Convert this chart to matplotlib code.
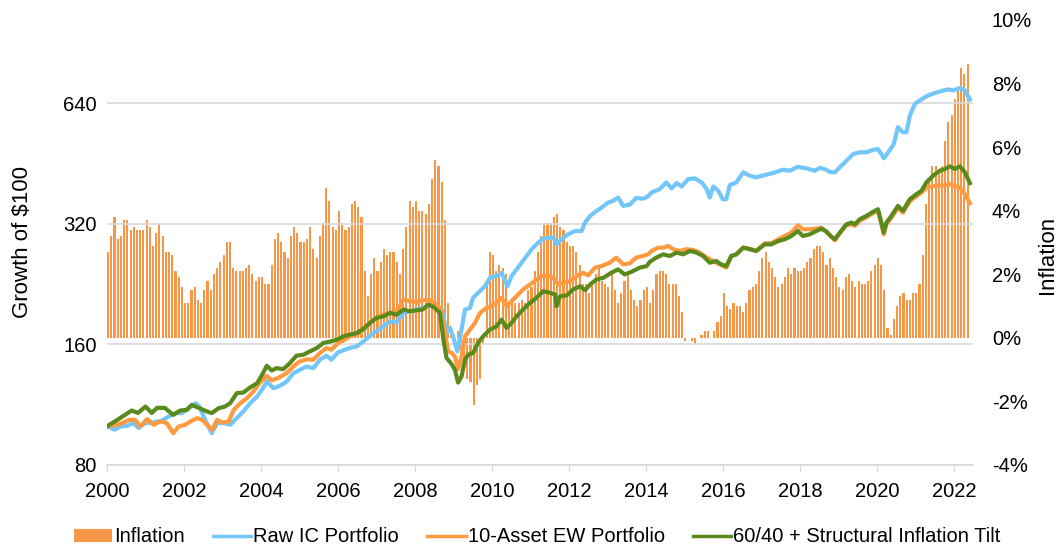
import numpy as np
import matplotlib
matplotlib.use("Agg")
import matplotlib.pyplot as plt
from matplotlib.ticker import FixedLocator, NullLocator, FuncFormatter
from matplotlib.patches import Patch
from matplotlib.lines import Line2D

plt.rcParams['font.family'] = ['Liberation Sans', 'DejaVu Sans']

# ============================================================
# DATA
# ============================================================

# Inflation, % YoY, monthly Jan 2000 .. May 2022
inflation = [
    2.7, 3.2, 3.8, 3.1, 3.2, 3.7, 3.7, 3.4, 3.5, 3.4, 3.4, 3.4,   # 2000
    3.7, 3.5, 2.9, 3.3, 3.6, 3.2, 2.7, 2.7, 2.6, 2.1, 1.9, 1.6,   # 2001
    1.1, 1.1, 1.5, 1.6, 1.2, 1.1, 1.5, 1.8, 1.5, 2.0, 2.2, 2.4,   # 2002
    2.6, 3.0, 3.0, 2.2, 2.1, 2.1, 2.1, 2.2, 2.3, 2.0, 1.8, 1.9,   # 2003
    1.9, 1.7, 1.7, 2.3, 3.1, 3.3, 3.0, 2.7, 2.5, 3.2, 3.5, 3.3,   # 2004
    3.0, 3.0, 3.1, 3.5, 2.8, 2.5, 3.2, 3.6, 4.7, 4.3, 3.5, 3.4,   # 2005
    4.0, 3.6, 3.4, 3.5, 4.2, 4.3, 4.1, 3.8, 2.1, 1.3, 2.0, 2.5,   # 2006
    2.1, 2.4, 2.8, 2.6, 2.7, 2.7, 2.4, 2.0, 2.8, 3.5, 4.3, 4.1,   # 2007
    4.3, 4.0, 4.0, 3.9, 4.2, 5.0, 5.6, 5.4, 4.9, 3.7, 1.1, 0.1,   # 2008
    0.0, 0.2, -0.4, -0.7, -1.3, -1.4, -2.1, -1.5, -1.3, -0.2, 1.8, 2.7,  # 2009
    2.6, 2.1, 2.3, 2.2, 2.0, 1.1, 1.2, 1.1, 1.1, 1.2, 1.1, 1.5,   # 2010
    1.6, 2.1, 2.7, 3.2, 3.6, 3.6, 3.6, 3.8, 3.9, 3.5, 3.4, 3.0,   # 2011
    2.9, 2.9, 2.7, 2.3, 1.7, 1.7, 1.4, 1.7, 2.0, 2.2, 1.8, 1.7,   # 2012
    1.6, 2.0, 1.5, 1.1, 1.4, 1.8, 2.0, 1.5, 1.2, 1.0, 1.2, 1.5,   # 2013
    1.6, 1.1, 1.5, 2.0, 2.1, 2.1, 2.0, 1.7, 1.7, 1.7, 1.3, 0.8,   # 2014
    -0.1, 0.0, -0.1, -0.2, 0.0, 0.1, 0.2, 0.2, 0.0, 0.2, 0.5, 0.7,  # 2015
    1.4, 1.0, 0.9, 1.1, 1.0, 1.0, 0.8, 1.1, 1.5, 1.6, 1.7, 2.1,   # 2016
    2.5, 2.7, 2.4, 2.2, 1.9, 1.6, 1.7, 1.9, 2.2, 2.0, 2.2, 2.1,   # 2017
    2.1, 2.2, 2.4, 2.5, 2.8, 2.9, 2.9, 2.7, 2.3, 2.5, 2.2, 1.9,   # 2018
    1.6, 1.5, 1.9, 2.0, 1.8, 1.6, 1.8, 1.7, 1.7, 1.8, 2.1, 2.3,   # 2019
    2.5, 2.3, 1.5, 0.3, 0.1, 0.6, 1.0, 1.3, 1.4, 1.2, 1.2, 1.4,   # 2020
    1.4, 1.7, 2.6, 4.2, 5.0, 5.4, 5.4, 5.3, 5.4, 6.2, 6.8, 7.0,   # 2021
    7.5, 7.9, 8.5, 8.3, 8.6,                                      # 2022
]

# Raw IC Portfolio, growth of $100
ic_years = [
    2000.0, 2000.2, 2000.35, 2000.52, 2000.69, 2000.82, 2000.99, 2001.21, 2001.43, 2001.6,
    2001.77, 2001.95, 2002.12, 2002.3, 2002.4, 2002.55, 2002.72, 2002.86, 2003.03, 2003.2,
    2003.37, 2003.54, 2003.72, 2003.9, 2004.06, 2004.15, 2004.32, 2004.49, 2004.67, 2004.84,
    2005.01, 2005.18, 2005.36, 2005.53, 2005.7, 2005.83, 2006.0, 2006.18, 2006.3, 2006.49,
    2006.66, 2006.83, 2007.0, 2007.18, 2007.35, 2007.52, 2007.7, 2007.87, 2008.04, 2008.2,
    2008.39, 2008.56, 2008.69, 2008.74, 2008.82, 2008.91, 2008.99, 2009.1, 2009.21, 2009.3,
    2009.43, 2009.51, 2009.64, 2009.82, 2009.95, 2010.12, 2010.25, 2010.4, 2010.51, 2010.64,
    2010.77, 2010.9, 2011.03, 2011.16, 2011.3, 2011.47, 2011.6, 2011.68, 2011.81, 2011.98,
    2012.16, 2012.33, 2012.42, 2012.55, 2012.72, 2012.85, 2013.02, 2013.15, 2013.28, 2013.41,
    2013.58, 2013.75, 2013.93, 2014.06, 2014.15, 2014.36, 2014.53, 2014.67, 2014.8, 2014.93,
    2015.1, 2015.27, 2015.45, 2015.58, 2015.66, 2015.75, 2015.88, 2016.0, 2016.09, 2016.18,
    2016.35, 2016.53, 2016.7, 2016.87, 2017.09, 2017.3, 2017.56, 2017.74, 2017.95, 2018.17,
    2018.39, 2018.52, 2018.69, 2018.78, 2018.91, 2019.04, 2019.21, 2019.39, 2019.56, 2019.73,
    2019.9, 2020.03, 2020.12, 2020.18, 2020.3, 2020.44, 2020.55, 2020.68, 2020.77, 2020.86,
    2020.99, 2021.16, 2021.33, 2021.51, 2021.68, 2021.86, 2021.99, 2022.16, 2022.29, 2022.42,
]
ic_values = [
    100.0, 98.0, 99.8, 100.2, 101.8, 98.9, 101.8, 102.1, 103.3, 105.7,
    107.8, 107.8, 110.9, 114.1, 111.9, 103.7, 96.0, 101.8, 101.8, 100.8,
    104.7, 108.8, 114.1, 118.6, 124.8, 129.3, 124.4, 126.1, 129.3, 135.6,
    138.2, 140.9, 139.6, 146.5, 150.0, 146.5, 152.8, 155.2, 156.7, 158.2,
    162.7, 168.1, 172.6, 177.5, 182.7, 181.6, 191.8, 193.6, 195.5, 197.4,
    200.7, 199.2, 195.5, 188.0, 171.0, 176.0, 167.6, 153.7, 174.2, 195.5,
    197.4, 209.2, 215.3, 223.6, 234.8, 236.9, 241.6, 223.6, 236.9, 246.3,
    256.0, 266.0, 276.4, 284.5, 292.9, 295.7, 295.7, 284.5, 292.9, 301.4,
    307.2, 307.2, 322.4, 335.0, 344.8, 351.5, 361.9, 365.3, 372.4, 354.9,
    357.4, 371.4, 369.9, 375.3, 383.4, 390.9, 406.2, 392.5, 404.6, 396.9,
    414.1, 415.8, 406.2, 390.9, 372.4, 396.9, 387.2, 368.9, 368.9, 399.9,
    406.2, 430.4, 422.1, 418.2, 423.7, 428.7, 437.0, 434.5, 444.5, 440.4,
    434.5, 442.0, 437.0, 431.2, 430.4, 443.3, 460.1, 478.4, 483.1, 483.1,
    489.5, 492.4, 478.4, 466.7, 483.1, 506.8, 558.2, 542.0, 542.0, 596.8,
    638.6, 654.6, 669.9, 679.3, 687.2, 693.6, 689.6, 699.2, 689.6, 654.6,
]

# 10-Asset EW Portfolio, growth of $100
ew_years = [
    2000.0, 2000.25, 2000.4, 2000.57, 2000.73, 2000.86, 2001.04, 2001.21, 2001.38, 2001.55,
    2001.72, 2001.86, 2002.03, 2002.16, 2002.34, 2002.47, 2002.6, 2002.73, 2002.86, 2002.99,
    2003.16, 2003.29, 2003.46, 2003.63, 2003.8, 2003.98, 2004.15, 2004.28, 2004.45, 2004.67,
    2004.84, 2005.01, 2005.18, 2005.36, 2005.53, 2005.7, 2005.83, 2006.0, 2006.18, 2006.3,
    2006.49, 2006.66, 2006.83, 2007.0, 2007.18, 2007.35, 2007.52, 2007.7, 2007.87, 2008.04,
    2008.2, 2008.35, 2008.48, 2008.65, 2008.78, 2008.86, 2008.95, 2009.04, 2009.12, 2009.21,
    2009.3, 2009.43, 2009.56, 2009.69, 2009.86, 2009.99, 2010.12, 2010.25, 2010.38, 2010.51,
    2010.64, 2010.81, 2010.99, 2011.16, 2011.33, 2011.51, 2011.64, 2011.72, 2011.85, 2012.03,
    2012.2, 2012.37, 2012.5, 2012.68, 2012.85, 2013.06, 2013.23, 2013.41, 2013.58, 2013.75,
    2013.93, 2014.06, 2014.15, 2014.32, 2014.45, 2014.58, 2014.71, 2014.88, 2015.05, 2015.23,
    2015.4, 2015.58, 2015.75, 2015.92, 2016.09, 2016.22, 2016.35, 2016.53, 2016.7, 2016.87,
    2017.09, 2017.26, 2017.44, 2017.61, 2017.78, 2017.95, 2018.08, 2018.26, 2018.43, 2018.56,
    2018.69, 2018.78, 2018.91, 2019.04, 2019.21, 2019.34, 2019.43, 2019.56, 2019.73, 2019.9,
    2020.03, 2020.12, 2020.18, 2020.25, 2020.38, 2020.55, 2020.68, 2020.86, 2021.03, 2021.16,
    2021.29, 2021.46, 2021.64, 2021.77, 2021.9, 2022.03, 2022.16, 2022.29, 2022.42,
]
ew_values = [
    100.0, 100.8, 101.8, 103.7, 103.7, 99.8, 104.1, 100.8, 102.7, 101.8,
    96.0, 99.8, 100.8, 102.7, 104.7, 103.7, 100.8, 97.9, 103.7, 102.1,
    102.7, 109.8, 114.1, 117.4, 121.9, 128.7, 133.5, 130.1, 132.0, 135.6,
    140.9, 145.1, 146.8, 146.5, 152.3, 156.7, 155.2, 161.3, 164.4, 167.6,
    169.2, 174.2, 181.1, 186.3, 189.9, 191.8, 193.6, 207.1, 205.1, 203.9,
    206.3, 207.1, 204.1, 197.4, 171.4, 153.7, 152.5, 149.1, 138.8, 149.1,
    167.6, 174.2, 181.1, 191.8, 197.4, 199.2, 203.2, 209.2, 199.2, 205.1,
    211.1, 219.4, 225.8, 232.5, 237.9, 236.9, 232.5, 225.8, 228.0, 230.1,
    236.9, 241.6, 237.9, 248.8, 251.1, 256.0, 263.6, 253.5, 255.0, 263.6,
    266.3, 268.6, 273.8, 279.1, 279.1, 281.8, 276.6, 273.8, 276.6, 275.5,
    271.3, 263.6, 258.4, 253.5, 248.8, 266.0, 268.6, 279.1, 277.5, 273.8,
    286.2, 286.2, 292.9, 298.5, 304.4, 317.5, 310.3, 310.3, 311.5, 313.3,
    305.5, 299.7, 291.2, 303.2, 317.5, 319.3, 316.6, 326.0, 332.6, 340.3,
    345.4, 319.3, 301.4, 319.3, 331.6, 351.3, 341.3, 364.7, 375.3, 383.4,
    393.9, 397.6, 399.2, 399.2, 402.3, 397.6, 393.9, 379.7, 360.5,
]

# 60/40 + Structural Inflation Tilt, growth of $100
tilt_years = [
    2000.0, 2000.2, 2000.4, 2000.64, 2000.8, 2001.0, 2001.16, 2001.3, 2001.5, 2001.72,
    2001.9, 2002.07, 2002.2, 2002.4, 2002.6, 2002.72, 2002.9, 2003.06, 2003.2, 2003.37,
    2003.54, 2003.7, 2003.9, 2004.06, 2004.15, 2004.28, 2004.4, 2004.58, 2004.75, 2004.92,
    2005.1, 2005.27, 2005.45, 2005.62, 2005.8, 2005.97, 2006.14, 2006.3, 2006.49, 2006.66,
    2006.83, 2007.0, 2007.18, 2007.35, 2007.52, 2007.7, 2007.87, 2008.04, 2008.2, 2008.35,
    2008.48, 2008.65, 2008.74, 2008.82, 2008.95, 2009.04, 2009.12, 2009.21, 2009.3, 2009.38,
    2009.51, 2009.64, 2009.77, 2009.95, 2010.12, 2010.25, 2010.38, 2010.51, 2010.64, 2010.81,
    2010.99, 2011.16, 2011.33, 2011.51, 2011.64, 2011.68, 2011.77, 2011.94, 2012.11, 2012.29,
    2012.42, 2012.55, 2012.72, 2012.9, 2013.1, 2013.28, 2013.45, 2013.62, 2013.84, 2014.02,
    2014.1, 2014.27, 2014.45, 2014.62, 2014.8, 2014.97, 2015.14, 2015.32, 2015.49, 2015.66,
    2015.83, 2015.96, 2016.09, 2016.22, 2016.35, 2016.53, 2016.7, 2016.87, 2017.09, 2017.26,
    2017.44, 2017.61, 2017.78, 2017.95, 2018.08, 2018.26, 2018.43, 2018.56, 2018.69, 2018.78,
    2018.91, 2019.04, 2019.21, 2019.34, 2019.43, 2019.56, 2019.73, 2019.9, 2020.03, 2020.12,
    2020.18, 2020.25, 2020.38, 2020.55, 2020.68, 2020.86, 2021.03, 2021.16, 2021.29, 2021.46,
    2021.64, 2021.77, 2021.9, 2022.03, 2022.16, 2022.29, 2022.42,
]
tilt_values = [
    100.0, 102.7, 105.7, 109.4, 107.9, 111.9, 107.9, 111.1, 111.1, 106.7,
    109.4, 109.8, 113.0, 110.9, 108.8, 107.8, 110.9, 111.9, 114.1, 120.9,
    121.3, 124.6, 128.0, 136.1, 141.5, 137.7, 139.6, 138.8, 143.7, 149.9,
    150.8, 153.7, 156.7, 161.3, 162.7, 164.4, 167.6, 169.2, 170.9, 174.9,
    181.1, 186.3, 188.0, 191.8, 189.9, 195.5, 193.6, 194.7, 195.5, 201.2,
    198.6, 191.8, 164.4, 148.0, 143.0, 138.2, 128.5, 133.0, 146.5, 150.8,
    152.3, 161.3, 167.6, 174.2, 177.5, 184.5, 176.0, 181.1, 188.0, 195.5,
    203.2, 209.2, 217.3, 215.3, 213.2, 199.2, 211.1, 212.0, 219.4, 223.6,
    218.6, 225.8, 232.5, 234.8, 241.6, 246.3, 239.3, 242.8, 248.8, 251.1,
    257.2, 263.6, 268.6, 266.0, 271.3, 268.6, 273.8, 271.3, 266.0, 256.0,
    258.4, 253.5, 251.1, 266.0, 268.6, 279.1, 276.6, 274.0, 284.5, 284.5,
    290.0, 292.9, 298.5, 307.2, 298.5, 301.4, 307.2, 311.2, 306.6, 299.7,
    292.9, 304.4, 319.3, 322.4, 319.3, 328.7, 335.0, 342.8, 348.2, 322.4,
    304.4, 322.4, 335.0, 354.9, 345.0, 368.9, 379.7, 387.2, 406.2, 422.1,
    434.5, 438.7, 445.6, 438.7, 445.6, 430.4, 404.6,
]

year_ticks = list(range(2000, 2023, 2))
growth_ticks = [80, 160, 320, 640]
infl_ticks = [-4, -2, 0, 2, 4, 6, 8, 10]

BAR_COLOR = "#F79646"
IC_COLOR = "#72C6FA"
EW_COLOR = "#FF9A40"
TILT_COLOR = "#5B8A1C"
GRID_COLOR = "#D9D9D9"

# ============================================================
# PLOT
# ============================================================

months = 2000 + np.arange(len(inflation)) / 12.0

fig = plt.figure(figsize=(10.62, 5.47), dpi=100)

# bars (right axis) underneath, lines (left axis) on top
ax_bar = fig.add_axes([0.1008, 0.150, 0.8154, 0.8135])
ax = ax_bar.twinx()

ax_bar.bar(months, inflation, width=0.055, align="edge",
           color=BAR_COLOR, linewidth=0)

ax.plot(ic_years, ic_values, color=IC_COLOR, lw=3.0, solid_joinstyle="round")
ax.plot(ew_years, ew_values, color=EW_COLOR, lw=3.0, solid_joinstyle="round")
ax.plot(tilt_years, tilt_values, color=TILT_COLOR, lw=3.0, solid_joinstyle="round")

# left: log2 growth axis
ax.set_yscale("log", base=2)
ax.set_ylim(80, 1034)
ax.yaxis.set_major_locator(FixedLocator(growth_ticks))
ax.yaxis.set_minor_locator(NullLocator())
ax.yaxis.set_major_formatter(FuncFormatter(lambda v, p: f"{v:.0f}"))
ax.yaxis.tick_left()
ax.yaxis.set_label_position("left")
ax.set_ylabel(r"Growth of \$100", fontsize=16)
ax.yaxis.set_label_coords(-0.0855, 0.5)
ax.tick_params(axis="y", length=0, labelsize=14.5, pad=7.5)
ax.grid(axis="y", color=GRID_COLOR, lw=1.2)
ax.set_axisbelow(True)

# right: inflation axis
ax_bar.set_ylim(-4, 10)
ax_bar.yaxis.set_major_locator(FixedLocator(infl_ticks))
ax_bar.yaxis.set_major_formatter(FuncFormatter(lambda v, p: f"{v:.0f}%"))
ax_bar.yaxis.tick_right()
ax_bar.yaxis.set_label_position("right")
ax_bar.set_ylabel("Inflation", fontsize=16)
ax_bar.yaxis.set_label_coords(1.0735, 0.472)
ax_bar.tick_params(axis="y", length=0, labelsize=14.5, pad=13.5)

# x axis
ax_bar.set_xlim(2000, 2022.5)
ax_bar.xaxis.set_major_locator(FixedLocator(year_ticks))
ax_bar.xaxis.set_minor_locator(NullLocator())
ax_bar.tick_params(axis="x", length=5, color=GRID_COLOR, labelsize=14.5, pad=7)

for a in (ax, ax_bar):
    for side in ("top", "left", "right", "bottom"):
        a.spines[side].set_visible(False)
ax_bar.spines["bottom"].set_visible(True)
ax_bar.spines["bottom"].set_color(GRID_COLOR)
ax_bar.spines["bottom"].set_linewidth(1.2)

handles = [
    Patch(facecolor=BAR_COLOR, edgecolor="none"),
    Line2D([], [], color=IC_COLOR, lw=2.5),
    Line2D([], [], color=EW_COLOR, lw=2.5),
    Line2D([], [], color=TILT_COLOR, lw=2.5),
]
labels = ["Inflation", "Raw IC Portfolio", "10-Asset EW Portfolio",
          "60/40 + Structural Inflation Tilt"]

fig.legend(handles, labels, loc="center", bbox_to_anchor=(0.506, 0.0183),
           ncol=4, frameon=False, fontsize=14.5, handlelength=1.9,
           handleheight=0.6, handletextpad=0.1, columnspacing=1.4,
           borderpad=0.1)

fig.savefig("out.png", dpi=100)
plt.close(fig)
